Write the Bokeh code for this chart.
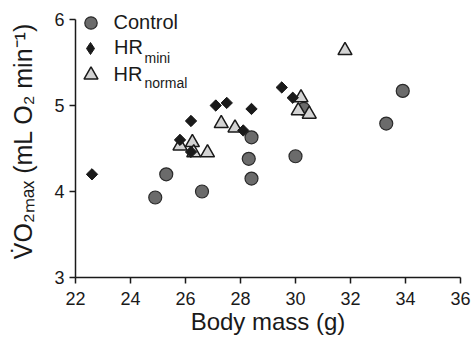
import math
from bokeh.plotting import figure
from bokeh.models import Range1d, FixedTicker, Legend, LegendItem, Label
from bokeh.embed import file_html
from bokeh.resources import INLINE

# ---- data ----
control_x = [24.9, 25.3, 26.6, 28.3, 28.4, 28.4, 30.0, 30.3, 33.3, 33.9]
control_y = [3.93, 4.20, 4.00, 4.38, 4.63, 4.15, 4.41, 4.96, 4.79, 5.17]

mini_x = [22.6, 25.8, 26.2, 26.2, 27.1, 27.5, 28.1, 28.4, 29.5, 29.9]
mini_y = [4.20, 4.60, 4.82, 4.46, 5.00, 5.03, 4.71, 4.96, 5.21, 5.09]

normal_x = [25.8, 26.25, 26.3, 26.8, 27.3, 27.8, 30.1, 30.2, 30.5, 31.8]
normal_y = [4.53, 4.57, 4.45, 4.45, 4.79, 4.74, 4.94, 5.09, 4.90, 5.64]

x_ticks = [22, 24, 26, 28, 30, 32, 34, 36]
y_ticks = [3, 4, 5, 6]
series_labels = ["Control", "HR", "HR"]
series_subs = ["", "mini", "normal"]
x_title = "Body mass (g)"
y_title = "V\u0307O\u2082\u2098\u2090\u2093 (mL O\u2082 min\u207b\u00b9)"

FONT = "Liberation Sans"
INK = "#1a1a1a"

p = figure(frame_width=385, frame_height=273, output_backend="svg", toolbar_location=None,
           x_range=Range1d(22, 36), y_range=Range1d(3, 6 + 15 / 86),
           min_border_left=75, min_border_top=4, min_border_right=11, min_border_bottom=61)
p.outline_line_color = None
p.grid.visible = False
p.background_fill_color = "white"

for ax in (p.xaxis[0], p.yaxis[0]):
    ax.axis_line_color = INK
    ax.axis_line_width = 1.5
    ax.major_tick_line_color = INK
    ax.major_tick_line_width = 1.5
    ax.major_tick_out = 6
    ax.major_tick_in = 0
    ax.minor_tick_line_color = None
    ax.major_label_text_font = FONT
    ax.major_label_text_font_size = "18px"
    ax.major_label_text_color = INK
    ax.axis_label_text_font = FONT
    ax.axis_label_text_font_style = "normal"
    ax.axis_label_text_color = INK

p.xaxis.ticker = FixedTicker(ticks=x_ticks)
p.yaxis.ticker = FixedTicker(ticks=y_ticks)
p.yaxis.bounds = (3, 6)
p.xaxis.major_label_standoff = 8
p.yaxis.major_label_standoff = 5
p.xaxis.axis_label = x_title
p.xaxis.axis_label_text_font_size = "24px"
p.xaxis.axis_label_standoff = 0
p.yaxis.axis_label = y_title
p.yaxis.axis_label_text_font_size = "25px"
p.yaxis.axis_label_standoff = 14

r_control = p.scatter(control_x, control_y, marker="circle", size=13,
                      fill_color="#6b6b6b", line_color="#2a2a2a", line_width=1.2)
r_normal = p.scatter(normal_x, normal_y, marker="triangle", size=14,
                     fill_color="#d3d3d3", line_color=INK, line_width=1.5)
# diamond glyph (fits inside the rotated squares) – used for the legend key
r_mini_key = p.scatter(mini_x, mini_y, marker="diamond", size=10,
                       fill_color=INK, line_color=INK, line_width=1)
r_mini = p.scatter(mini_x, mini_y, marker="square", angle=math.pi / 4, size=8,
                   fill_color=INK, line_color=INK, line_width=1)

# ---- legends (one per row so each marker keeps its own size) ----
renderers = [r_control, r_mini_key, r_normal]
row_cy = [22, 47.5, 74]      # px of row centres from the top
glyph_box = [31, 30, 35]
frame_left, frame_bottom = 75, 277
for lab, rend, cy, gb in zip(series_labels, renderers, row_cy, glyph_box):
    h = max(gb, 20)
    leg = Legend(items=[LegendItem(label=lab, renderers=[rend])],
                 location=(15 - gb / 2, frame_bottom - (cy + h / 2)),
                 glyph_width=gb, glyph_height=gb, label_height=20,
                 label_standoff=int(round(24 - gb / 2)), padding=0, margin=0, spacing=0,
                 border_line_color=None, background_fill_alpha=0,
                 label_text_font=FONT, label_text_font_size="20px", label_text_color=INK)
    p.add_layout(leg, "center")

sub_base = [0, 57, 82]
for sub, yb in zip(series_subs, sub_base):
    if sub:
        p.add_layout(Label(x=144 - frame_left, y=frame_bottom - yb, x_units="screen", y_units="screen",
                           text=sub, text_font=FONT, text_font_size="14px", text_color=INK,
                           text_align="left", text_baseline="alphabetic"))

open("out.html", "w").write(file_html(p, INLINE))
